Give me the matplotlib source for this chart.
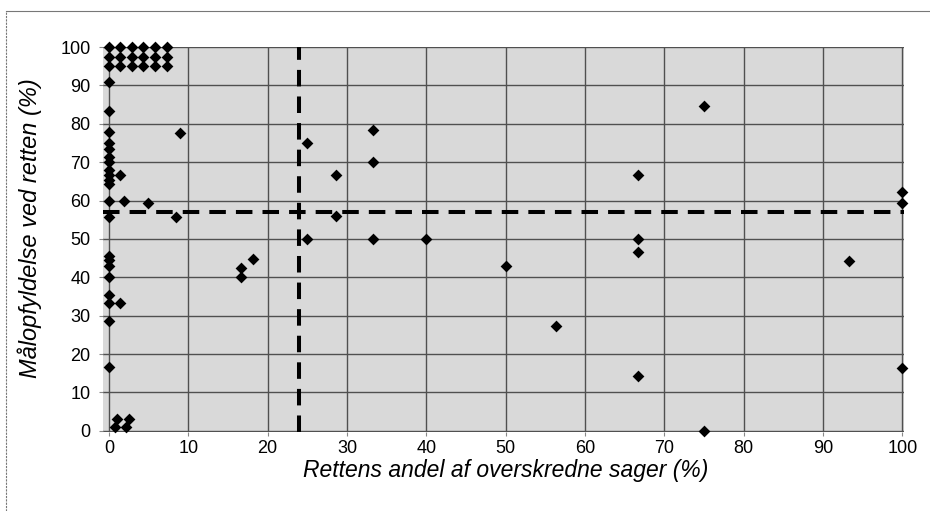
import matplotlib.pyplot as plt
from matplotlib.lines import Line2D

plt.rcParams['font.family'] = ['Liberation Sans', 'DejaVu Sans']

# Datapunkter (x = rettens andel af overskredne sager, y = målopfyldelse)
# klyngen oppe i venstre hjørne
cluster_x = [0, 1.4, 2.9, 4.3, 5.8, 7.3,
             0, 1.4, 2.9, 4.3, 5.8, 7.3,
             0, 1.4, 2.9, 4.3, 5.8, 7.3]
cluster_y = [100, 100, 100, 100, 100, 100,
             97.5, 97.5, 97.5, 97.5, 97.5, 97.5,
             95, 95, 95, 95, 95, 95]

# domstole med 0 % overskredne sager
zero_y = [90.9, 83.3, 77.8, 75.0, 73.3, 71.4, 70.0, 68.0, 66.7, 65.4, 64.3,
          60.0, 55.6, 45.5, 44.4, 42.9, 40.0, 35.3, 33.3, 28.6, 16.7]
zero_x = [0] * len(zero_y)

# resten
other_x = [1.4, 1.9, 4.95, 8.5, 9.0, 1.4,
           1.0, 2.5, 0.8, 2.1,
           16.7, 16.7, 18.2,
           25.0, 25.0, 28.6, 28.6, 33.3, 33.3, 33.3, 40.0,
           50.0, 56.3, 66.7, 66.7, 66.7, 66.7, 75.0, 75.0, 93.3,
           100, 100, 100]
other_y = [66.7, 60.0, 59.3, 55.8, 77.5, 33.3,
           3.0, 3.0, 1.1, 1.1,
           42.4, 40.0, 44.8,
           75.0, 50.0, 66.7, 56.0, 78.4, 70.0, 50.0, 50.0,
           42.9, 27.2, 66.7, 50.0, 46.7, 14.3, 84.6, 0.0, 44.2,
           62.2, 59.4, 16.4]

# gennemsnit (stiplede linjer)
mean_x = 24
mean_y = 57

ticks = list(range(0, 101, 10))

fig = plt.figure(figsize=(9.3, 5.11), dpi=100)
ax = fig.add_axes([103 / 930, 1 - 432 / 511, 801 / 930, 385 / 511])
ax.set_facecolor('#d9d9d9')

for t in ticks:
    ax.axhline(t, color='#505050', lw=1.0, zorder=1)
    ax.axvline(t, color='#505050', lw=1.0, zorder=1)

ax.axhline(mean_y, color='black', lw=2.9, dashes=(4.1, 2.5), zorder=3)
ax.axvline(mean_x, color='black', lw=2.9, dashes=(4.1, 2.5), zorder=3)

xs = cluster_x + zero_x + other_x
ys = cluster_y + zero_y + other_y
ax.scatter(xs, ys, marker='D', s=36, color='black', zorder=4, clip_on=False,
           linewidths=0)

ax.set_xlim(-0.75, 100.2)
ax.set_ylim(-0.3, 100)
ax.set_xticks(ticks)
ax.set_yticks(ticks)
ax.tick_params(axis='both', labelsize=13, length=3, color='#888888')
ax.tick_params(axis='y', pad=6)
ax.tick_params(axis='x', pad=3)

for s in ax.spines.values():
    s.set_visible(False)

ax.set_xlabel('Rettens andel af overskredne sager (%)', fontsize=16.5,
              style='italic', va='center')
ax.set_ylabel('Målopfyldelse ved retten (%)', fontsize=17,
              style='italic', va='center')
ax.xaxis.set_label_coords(0.503, -0.099)
ax.yaxis.set_label_coords(-0.092, 0.53)

# ramme om figuren (som i originalen)
fig.add_artist(Line2D([6 / 930, 6 / 930], [0, 1 - 11 / 511],
                      transform=fig.transFigure, color='#777777', lw=0.8,
                      linestyle=(0, (2, 1))))
fig.add_artist(Line2D([6 / 930, 1], [1 - 11 / 511, 1 - 11 / 511],
                      transform=fig.transFigure, color='#777777', lw=0.8))

fig.savefig('out.png', dpi=100)
